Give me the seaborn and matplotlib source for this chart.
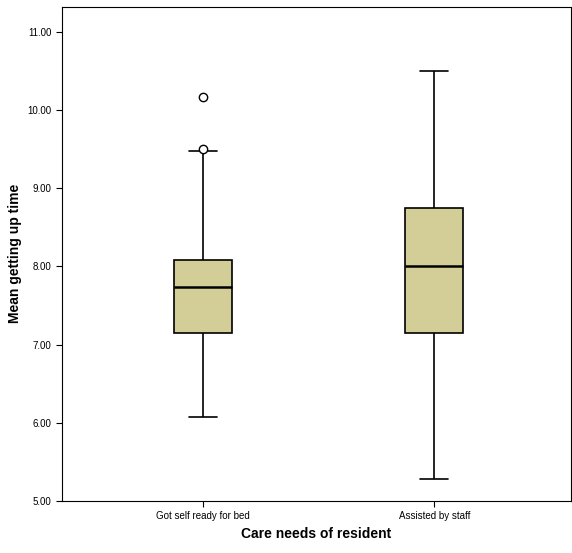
import matplotlib
matplotlib.use("Agg")
import matplotlib.pyplot as plt
import seaborn as sns
import pandas as pd
from matplotlib.ticker import FormatStrFormatter

categories = ["Got self ready for bed", "Assisted by staff"]
self_ready = [6.07, 6.6, 7.0, 7.15, 7.4, 7.6, 7.73, 7.9, 8.0, 8.08, 9.47, 9.5, 10.17]
assisted = [5.28, 7.15, 8.01, 8.75, 10.5]

df = pd.DataFrame({
    "group": [categories[0]] * len(self_ready) + [categories[1]] * len(assisted),
    "value": self_ready + assisted,
})

sns.set_style("white")
plt.rcParams["font.family"] = ["Liberation Sans", "DejaVu Sans"]
fig = plt.figure(figsize=(5.72, 5.53), dpi=100)
ax = fig.add_axes([0.108, 0.094, 0.89, 0.894])
sns.boxplot(data=df, x="group", y="value", order=categories, ax=ax, width=0.25,
            color="#D3CE97", whis=1.5, linewidth=1.2, saturation=1,
            boxprops=dict(edgecolor="black"),
            whiskerprops=dict(color="black"), capprops=dict(color="black"),
            medianprops=dict(color="black", linewidth=1.8),
            flierprops=dict(marker="o", markerfacecolor="white", markeredgecolor="black", markersize=6))
for line in ax.lines:
    xd = line.get_xdata()
    if len(xd) == 2 and abs(xd[1] - xd[0]) > 0.1 and abs(xd[1] - xd[0]) < 0.2:
        c = (xd[0] + xd[1]) / 2
        line.set_xdata([c - 0.06, c + 0.06])
ax.set_xlim(-0.61, 1.59)
ax.set_ylim(5.0, 11.32)
ax.set_yticks([5, 6, 7, 8, 9, 10, 11])
ax.yaxis.set_major_formatter(FormatStrFormatter("%.2f"))
ax.tick_params(axis="both", labelsize=7, length=4, left=True, bottom=True, colors="black")
ax.set_xlabel("Care needs of resident", fontsize=10, fontweight="bold", color="black")
ax.set_ylabel("Mean getting up time", fontsize=10, fontweight="bold", color="black")
for s in ax.spines.values():
    s.set_color("black"); s.set_linewidth(0.8)
fig.savefig("out.png", dpi=100)
